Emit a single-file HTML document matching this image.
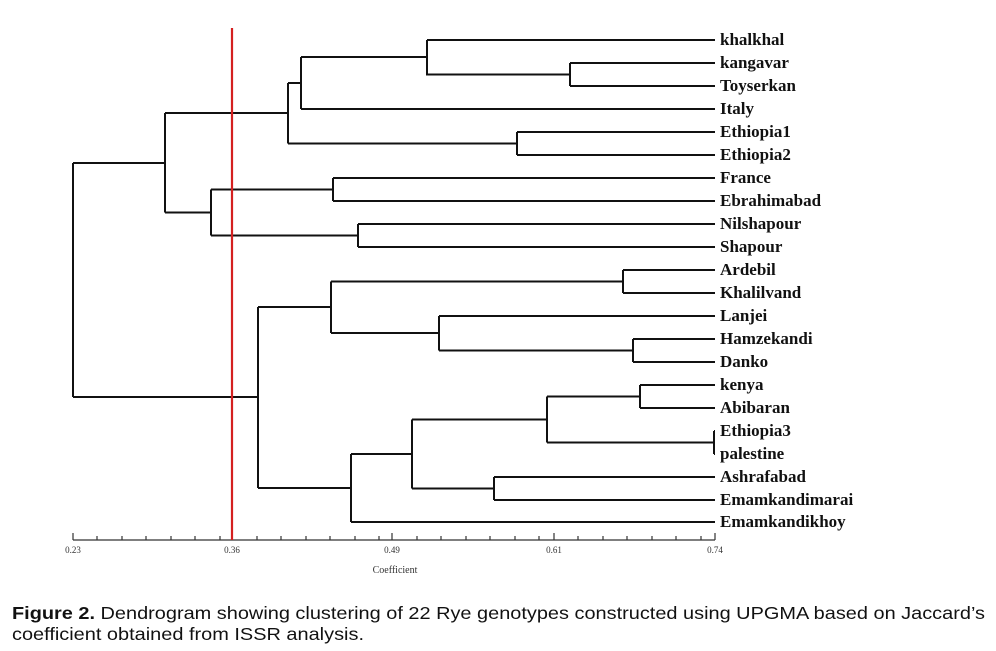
<!DOCTYPE html>
<html><head><meta charset="utf-8"><style>
html,body{margin:0;padding:0;background:#fff;width:996px;height:651px;overflow:hidden}
</style></head><body>
<svg width="996" height="651" viewBox="0 0 996 651" xmlns="http://www.w3.org/2000/svg">
<defs><clipPath id="c"><rect x="0" y="0" width="857" height="651"/></clipPath></defs>
<g stroke="#111" stroke-width="2" fill="none">
<path d="M427 40H715 M570 63H715 M570 86H715 M301 109H715 M517 132H715 M517 155H715 M333 178H715 M333 201H715 M358 224H715 M358 247H715 M623 270H715 M623 293H715 M439 316H715 M633 339H715 M633 362H715 M640 385H715 M640 408H715 M714 431H715 M714 454H715 M494 477H715 M494 500H715 M351 522H715"/>
<path d="M570 63V86 M427 40V74.5H570 M301 57V109 M301 57H427 M517 132V155 M288 83V143.5 M288 83H301 M288 143.5H517"/>
<path d="M333 178V201 M358 224V247 M211 189.5V235.5 M211 189.5H333 M211 235.5H358 M165 113V212.5 M165 113H288 M165 212.5H211"/>
<path d="M623 270V293 M633 339V362 M439 316V350.5 M439 350.5H633 M331 281.5V333 M331 281.5H623 M331 333H439"/>
<path d="M640 385V408 M714 431V454 M547 396.5V442.5 M547 396.5H640 M547 442.5H714 M494 477V500 M412 419.5V488.5 M412 419.5H547 M412 488.5H494 M351 454V522 M351 454H412"/>
<path d="M258 307V488 M258 307H331 M258 488H351 M73 163V397 M73 163H165 M73 397H258"/>
</g>
<g stroke="#333" stroke-width="1.2">
<line x1="73" y1="540" x2="715" y2="540"/>
<path d="M73 533V540 M97 536V540 M122 536V540 M146 536V540 M171 536V540 M195 536V540 M220 536V540 M232 533V540 M257 536V540 M281 536V540 M306 536V540 M330 536V540 M355 536V540 M379 536V540 M392 533V540 M417 536V540 M441 536V540 M466 536V540 M490 536V540 M515 536V540 M539 536V540 M554 533V540 M578 536V540 M603 536V540 M627 536V540 M652 536V540 M676 536V540 M701 536V540 M715 533V540"/>
</g>
<line x1="232" y1="28" x2="232" y2="540" stroke="#d42020" stroke-width="2.2"/>
<g font-family="Liberation Serif, serif" font-size="9" fill="#333" text-anchor="middle">
<text x="73" y="553">0.23</text><text x="232" y="553">0.36</text><text x="392" y="553">0.49</text><text x="554" y="553">0.61</text><text x="715" y="553">0.74</text>
<text x="395" y="573" font-size="10">Coefficient</text>
</g>
<g font-family="Liberation Serif, serif" font-size="17" font-weight="bold" fill="#111" clip-path="url(#c)">
<text x="720" y="45">khalkhal</text>
<text x="720" y="68">kangavar</text>
<text x="720" y="91">Toyserkan</text>
<text x="720" y="114">Italy</text>
<text x="720" y="137">Ethiopia1</text>
<text x="720" y="160">Ethiopia2</text>
<text x="720" y="183">France</text>
<text x="720" y="206">Ebrahimabad</text>
<text x="720" y="229">Nilshapour</text>
<text x="720" y="252">Shapour</text>
<text x="720" y="275">Ardebil</text>
<text x="720" y="298">Khalilvand</text>
<text x="720" y="321">Lanjei</text>
<text x="720" y="344">Hamzekandi</text>
<text x="720" y="367">Danko</text>
<text x="720" y="390">kenya</text>
<text x="720" y="413">Abibaran</text>
<text x="720" y="436">Ethiopia3</text>
<text x="720" y="459">palestine</text>
<text x="720" y="482">Ashrafabad</text>
<text x="720" y="505">Emamkandimarai</text>
<text x="720" y="527">Emamkandikhoy</text>
</g>
<g font-family="Liberation Sans, Arial, sans-serif" font-size="17.5" fill="#111">
<text x="12" y="619" textLength="973" lengthAdjust="spacingAndGlyphs"><tspan font-weight="bold">Figure 2.</tspan> Dendrogram showing clustering of 22 Rye genotypes constructed using UPGMA based on Jaccard’s</text>
<text x="12" y="640" textLength="352" lengthAdjust="spacingAndGlyphs">coefficient obtained from ISSR analysis.</text>
</g>
</svg>
</body></html>
